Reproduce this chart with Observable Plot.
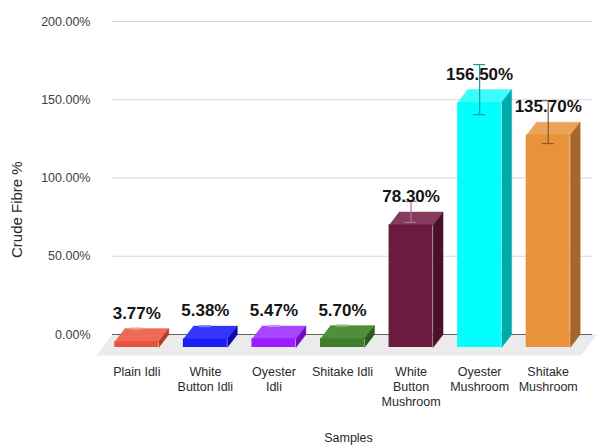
<!DOCTYPE html>
<html>
<head>
<meta charset="utf-8">
<script src="https://cdn.jsdelivr.net/npm/d3@7"></script>
<script src="https://cdn.jsdelivr.net/npm/@observablehq/plot@0.6"></script>
<style>
  html, body { margin: 0; padding: 0; background: #fff; }
  #chart svg { display: block; }
</style>
</head>
<body>
<div id="chart"></div>
<script>
// ---- data ----
const categories = ["Plain Idli", "White\nButton Idli", "Oyester\nIdli", "Shitake Idli", "White\nButton\nMushroom", "Oyester\nMushroom", "Shitake\nMushroom"];
const values = [3.77, 5.38, 5.47, 5.70, 78.30, 156.50, 135.70];
const errors = [0.3, 0.3, 0.3, 0.3, 6.7, 16, 13.7];
const yTicks = [0, 50, 100, 150, 200];
const frontColors = ["#e8533f", "#1c1cf8", "#9a1cff", "#3f7f2b", "#6c1a40", "#00ffff", "#e8923a"];
const topColors   = ["#ef6a56", "#3535ff", "#a845ff", "#4f8f3a", "#853a5e", "#3dfcfc", "#eba35a"];
const sideColors  = ["#b03a2a", "#0a0aa8", "#6e0ec0", "#2a5a1c", "#4b0f2c", "#00aaaa", "#a5652b"];
const errColors   = ["#f2a090", "#8080ff", "#c890ff", "#90b880", "#b07090", "#1a9999", "#8c5a28"];

// ---- layout ----
const W = 597, H = 448, mL = 112, mR = 5, mT = 21, mB = 114;
const yMax = 200;
const kx = (W - mL - mR) / categories.length; // px per category unit
const ky = (H - mT - mB) / yMax;              // px per percent
const DX = 10, DY = 13;    // bar depth (px)
const FDX = 16, FDY = 21;  // floor depth (px)
const DXu = DX / kx, DYu = DY / ky, FDXu = FDX / kx, FDYu = FDY / ky;
const BW = 44 / kx;        // bar width in units
const FONT = "'Liberation Sans', Arial, sans-serif";

const rows = categories.map((c, i) => ({i, c, v: values[i], e: errors[i]}));

// polygons for top and side faces
const polys = [];
rows.forEach(({i, v}) => {
  const l = i - BW / 2, r = i + BW / 2;
  [[l - DXu, v - DYu], [r - DXu, v - DYu], [r, v], [l, v]].forEach(([x, y]) =>
    polys.push({key: "t" + i, x, y, fill: topColors[i]}));
  [[r - DXu, -DYu], [r, 0], [r, v], [r - DXu, v - DYu]].forEach(([x, y]) =>
    polys.push({key: "s" + i, x, y, fill: sideColors[i]}));
});
const n = categories.length;
const floor = [
  {x: -0.5, y: 0}, {x: n - 0.5 + 4.6 / kx, y: 0},
  {x: n - 0.5 + 4.6 / kx - FDXu, y: -FDYu}, {x: -0.5 - FDXu, y: -FDYu}
];

const caps = [];
rows.forEach(({i, v, e}) => {
  caps.push({i, y: v + e}); caps.push({i, y: v - e});
});
const capW = 6 / kx;

const plot = Plot.plot({
  width: W, height: H,
  marginLeft: mL, marginRight: mR, marginTop: mT, marginBottom: mB,
  x: {domain: [-0.5, n - 0.5], axis: null},
  y: {domain: [0, yMax], axis: null},
  color: {type: "identity"},
  style: {fontFamily: FONT, fontSize: "12.5px", color: "#404040", background: "#fff"},
  marks: [
    Plot.ruleY(yTicks, {stroke: "#d6d6d6", strokeWidth: 1.2}),
    Plot.axisY({ticks: yTicks, tickFormat: d => d.toFixed(2) + "%", tickSize: 0, tickPadding: 22, label: null, fill: "#404040"}),
    Plot.line(floor, {x: "x", y: "y", fill: "#ebebeb", stroke: "none"}),
    Plot.ruleY([0], {stroke: "#606060", strokeWidth: 1.2}),
    Plot.line(polys, {x: "x", y: "y", z: "key", fill: "fill", stroke: "fill", strokeWidth: 0.4}),
    Plot.rect(rows, {
      x1: d => d.i - BW / 2 - DXu, x2: d => d.i + BW / 2 - DXu,
      y1: () => -DYu, y2: d => d.v - DYu,
      fill: d => frontColors[d.i]
    }),
    Plot.ruleX(rows, {x: d => d.i - DXu, y1: d => d.v - d.e, y2: d => d.v + d.e, stroke: d => errColors[d.i], strokeWidth: 1.2}),
    Plot.ruleY(caps, {y: "y", x1: d => d.i - DXu - capW, x2: d => d.i - DXu + capW, stroke: d => errColors[d.i], strokeWidth: 1.2}),
    Plot.text(rows, {
      x: d => d.i - DXu, y: "v", text: d => d.v.toFixed(2) + "%",
      dy: -10, lineAnchor: "bottom", fontWeight: "bold", fontSize: 17, fill: "#141414"
    }),
    Plot.text(rows, {
      x: d => d.i - DXu, y: () => 0, text: "c",
      dy: 31, lineAnchor: "top", lineHeight: 1.2, fill: "#2a2a2a"
    }),
    Plot.text(["Samples"], {frameAnchor: "bottom", text: d => d, dx: -4, dy: 103, lineAnchor: "middle", fill: "#2a2a2a"}),
    Plot.text(["Crude Fibre %"], {frameAnchor: "left", text: d => d, rotate: -90, dx: -95, dy: 80, lineAnchor: "middle", fontSize: 15, fill: "#2a2a2a"})
  ]
});
document.getElementById("chart").appendChild(plot);
</script>
</body>
</html>
